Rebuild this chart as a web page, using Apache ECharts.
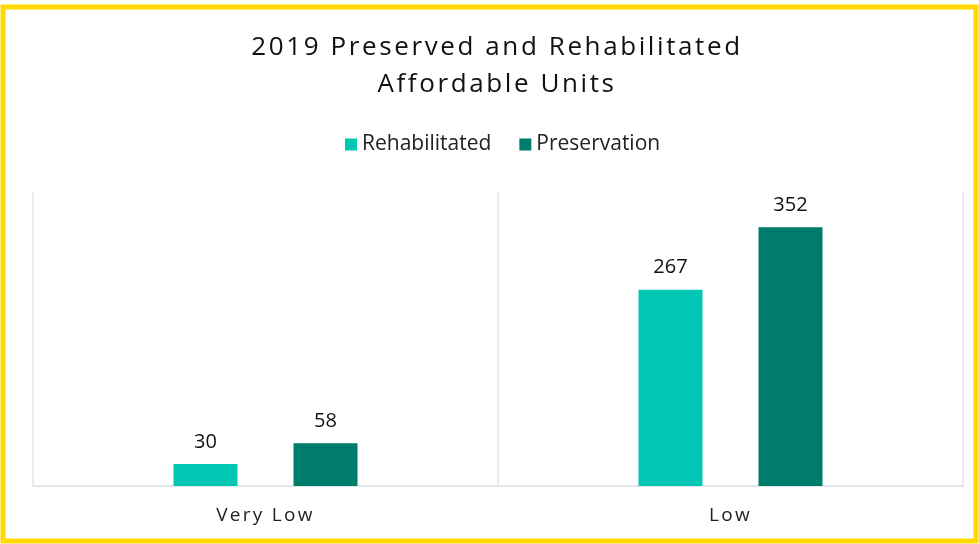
<!DOCTYPE html>
<html>
<head>
<meta charset="utf-8">
<script src="https://cdn.jsdelivr.net/npm/echarts@6/dist/echarts.min.js"></script>
<style>
  html, body { margin: 0; padding: 0; background: #fff; }
  #chart { width: 979px; height: 544px; box-sizing: border-box; }
</style>
</head>
<body>
<div id="chart"></div>
<script>
const categories = ['Very Low', 'Low']
const rehabilitated = [30, 267]
const preservation = [58, 352]

// 标题和类目标签带字间距：按字号给 canvas 加 letterSpacing
const spacingBySize = { 26: '2.6px', 19: '2.3px' }
const origFillText = CanvasRenderingContext2D.prototype.fillText
CanvasRenderingContext2D.prototype.fillText = function (text, x, y, maxWidth) {
  const m = /(\d+)px/.exec(this.font || '')
  this.letterSpacing = (m && spacingBySize[m[1]]) || '0px'
  return maxWidth === undefined
    ? origFillText.call(this, text, x, y)
    : origFillText.call(this, text, x, y, maxWidth)
}

const chart = echarts.init(document.getElementById('chart'))

chart.setOption({
  textStyle: { fontFamily: 'Open Sans' },
  title: {
    text: '2019 Preserved and Rehabilitated\nAffordable Units',
    left: 492,
    top: 24,
    textAlign: 'center',
    textStyle: {
      fontSize: 26,
      fontWeight: 'normal',
      color: '#111',
      lineHeight: 37,
      fontFamily: 'Open Sans'
    }
  },
  legend: {
    top: 129,
    left: 340,
    itemWidth: 12,
    itemHeight: 12,
    itemGap: 28,
    icon: 'rect',
    textStyle: { fontSize: 21, color: '#222', fontFamily: 'Open Sans' },
    data: ['Rehabilitated', 'Preservation']
  },
  // 绘图区
  grid: { left: 33, right: 16, top: 192, bottom: 58 },
  xAxis: {
    type: 'category',
    data: categories,
    axisLine: { lineStyle: { color: '#d9dee2', width: 1.5 } },
    axisTick: { show: false },
    splitLine: { show: true, lineStyle: { color: '#e3e6e8', width: 1.5 } },
    axisLabel: { fontSize: 19, color: '#222', margin: 20, fontFamily: 'Open Sans' }
  },
  yAxis: {
    type: 'value',
    min: 0,
    max: 400,
    show: false,
    splitLine: { show: false }
  },
  series: [
    {
      name: 'Rehabilitated',
      type: 'bar',
      data: rehabilitated,
      barWidth: 64,
      barGap: '87.5%',
      itemStyle: { color: '#00c7b3' },
      label: { show: true, position: 'top', distance: 12, fontSize: 20, color: '#111' }
    },
    {
      name: 'Preservation',
      type: 'bar',
      data: preservation,
      barWidth: 64,
      itemStyle: { color: '#007d6a' },
      label: { show: true, position: 'top', distance: 12, fontSize: 20, color: '#111' }
    }
  ],
  graphic: [{
    type: 'rect',
    shape: { x: 3, y: 7, width: 973, height: 534 },
    style: { fill: 'none', stroke: '#ffd900', lineWidth: 5 },
    silent: true
  }]
})
</script>
</body>
</html>
